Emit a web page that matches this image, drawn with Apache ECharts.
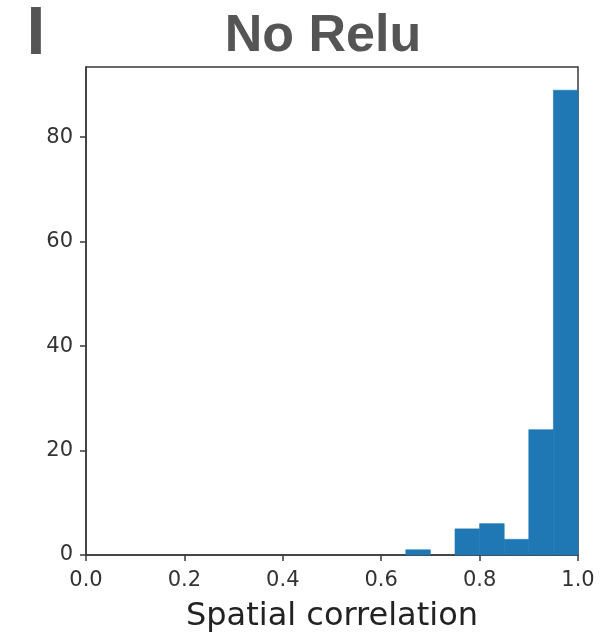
<!DOCTYPE html>
<html>
<head>
<meta charset="utf-8">
<script src="https://cdn.jsdelivr.net/npm/echarts@6/dist/echarts.min.js"></script>
<style>html,body{margin:0;padding:0;background:#fff;}#c{width:610px;height:635px;}</style>
</head>
<body>
<div id="c"></div>
<script>
const titleText = "No Relu";
const panelLetter = "I";
const xAxisName = "Spatial correlation";
const binStarts = [0.65, 0.70, 0.75, 0.80, 0.85, 0.90, 0.95];
const binWidth = 0.05;
const counts = [1, 0, 5, 6, 3, 24, 89];
const xTicks = [0, 0.2, 0.4, 0.6, 0.8, 1.0];
const yTicks = [0, 20, 40, 60, 80];
const yMax = 93.45;

const chart = echarts.init(document.getElementById('c'), null, {renderer: 'canvas'});
const data = binStarts.map((s, i) => [s, s + binWidth, counts[i]]);
const axisColor = '#3a3a3a';
chart.setOption({
  animation: false,
  backgroundColor: '#fff',
  title: [
    {text: titleText, left: 318, top: 6, textAlign: 'center',
     textStyle: {fontFamily: 'Liberation Sans', fontWeight: 'bold', fontSize: 52, color: '#555555'}},
    {text: panelLetter, left: 31, top: -4, textAlign: 'center',
     textStyle: {fontFamily: 'Liberation Sans', fontWeight: 'bold', fontSize: 68, color: '#555555'}}
  ],
  grid: {left: 86, right: 32, top: 67, bottom: 80, outerBoundsMode: 'none', containLabel: false,
    show: true, borderColor: axisColor, borderWidth: 1.5, backgroundColor: 'transparent'},
  xAxis: {
    type: 'value', min: 0, max: 1, interval: 0.2,
    name: xAxisName, nameLocation: 'middle', nameGap: 46,
    nameTextStyle: {fontFamily: 'DejaVu Sans', fontSize: 32, color: '#222'},
    axisLine: {show: true, onZero: false, lineStyle: {color: axisColor, width: 1.5}},
    axisTick: {show: true, length: 6, lineStyle: {color: axisColor, width: 1.5}, customValues: xTicks},
    axisLabel: {fontFamily: 'DejaVu Sans', fontSize: 21, color: '#333', margin: 15,
      customValues: xTicks, formatter: v => v.toFixed(1)},
    splitLine: {show: false}
  },
  yAxis: {
    type: 'value', min: 0, max: yMax,
    axisLine: {show: true, lineStyle: {color: axisColor, width: 1.5}},
    axisTick: {show: true, length: 6, lineStyle: {color: axisColor, width: 1.5}, customValues: yTicks},
    axisLabel: {fontFamily: 'DejaVu Sans', fontSize: 21, color: '#333', margin: 13, customValues: yTicks},
    splitLine: {show: false}
  },
  series: [{
    type: 'custom',
    data: data,
    renderItem: function (params, api) {
      const v = api.value(2);
      const p0 = api.coord([api.value(0), v]);
      const p1 = api.coord([api.value(1), 0]);
      return {
        type: 'rect',
        shape: {x: p0[0], y: p0[1], width: p1[0] - p0[0], height: p1[1] - p0[1]},
        style: v > 0 ? {fill: '#1f77b4', stroke: '#1f77b4', lineWidth: 0.6} : {fill: '#1f77b4'}
      };
    },
    encode: {x: [0, 1], y: 2}
  }]
});
</script>
</body>
</html>
